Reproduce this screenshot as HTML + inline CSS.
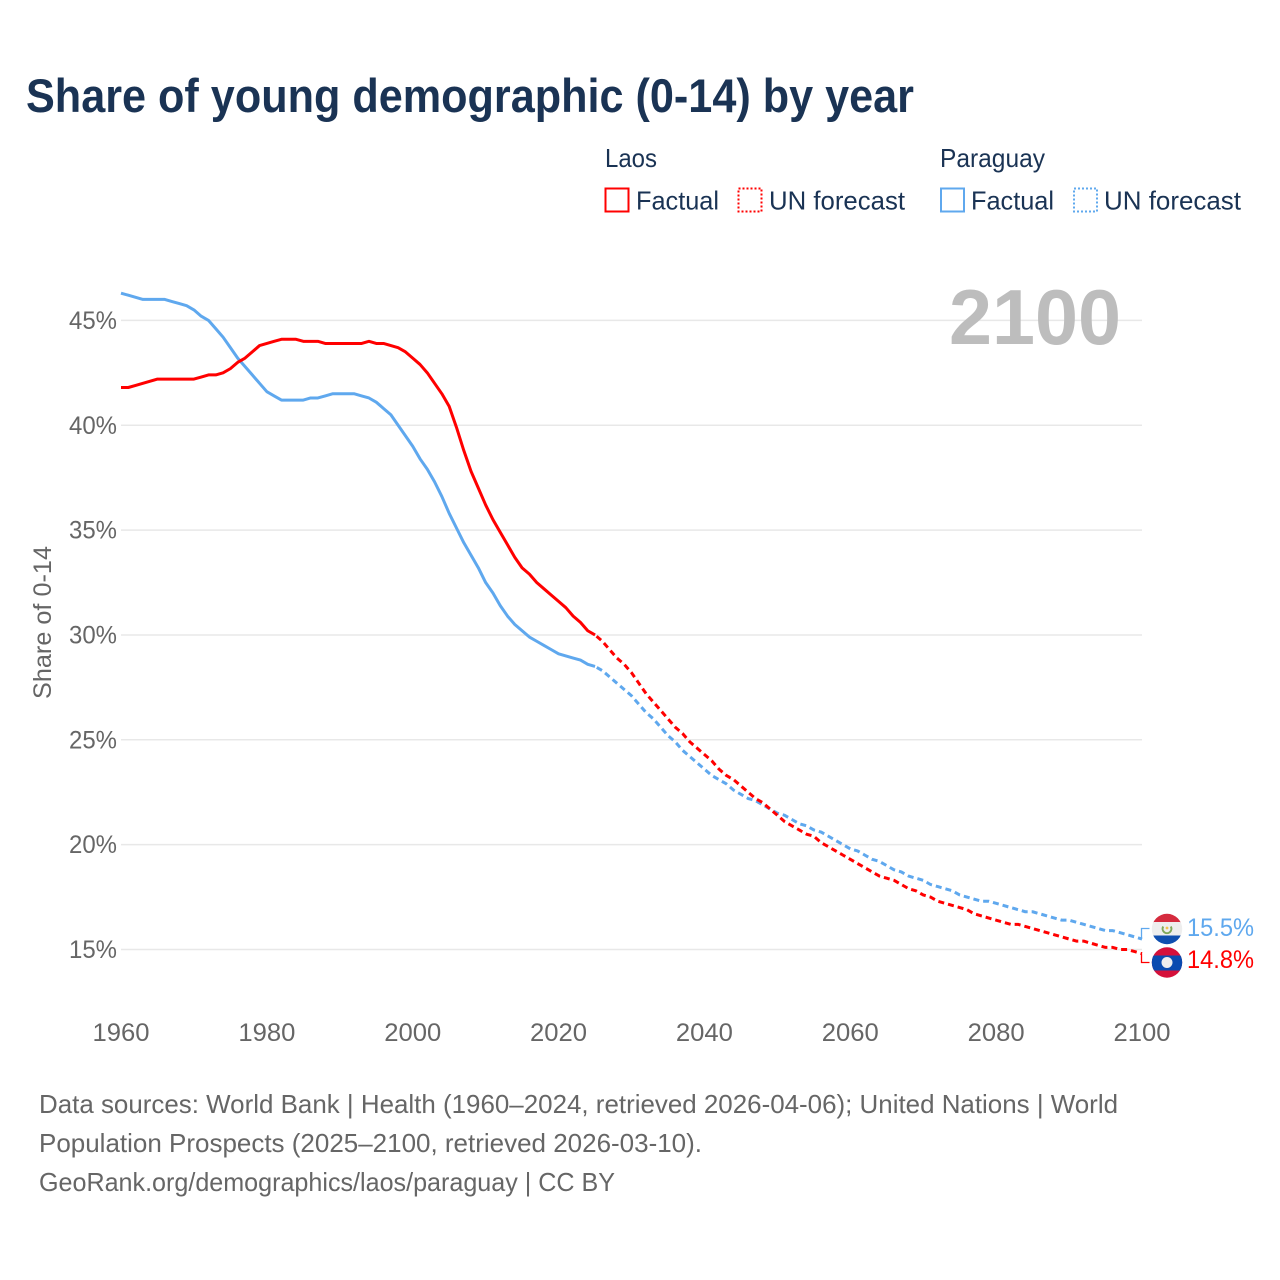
<!DOCTYPE html>
<html lang="en">
<head>
<meta charset="utf-8">
<title>Share of young demographic (0-14) by year</title>
<style>
html,body{margin:0;padding:0;background:#fff;}
svg{display:block;font-family:"Liberation Sans",sans-serif;}
</style>
</head>
<body>
<svg id="chart" xmlns="http://www.w3.org/2000/svg" width="1280" height="1280" viewBox="0 0 1280 1280">
  <defs>
    <clipPath id="clip-py"><circle cx="1167" cy="929" r="15.2"/></clipPath>
    <clipPath id="clip-la"><circle cx="1167" cy="962.5" r="15.2"/></clipPath>
  </defs>
  <rect x="0" y="0" width="1280" height="1280" fill="#ffffff"/>
  <text x="26" y="112" font-size="47" font-weight="bold" fill="#1a3354" textLength="888" lengthAdjust="spacingAndGlyphs">Share of young demographic (0-14) by year</text>

  <g font-size="26" fill="#1a3354">
    <text x="605" y="167" textLength="52" lengthAdjust="spacingAndGlyphs">Laos</text>
    <rect x="605.5" y="188.5" width="23" height="23" fill="none" stroke="#ff0000" stroke-width="2"/>
    <text x="636" y="209.5" textLength="83" lengthAdjust="spacingAndGlyphs">Factual</text>
    <rect x="738.5" y="188.5" width="23" height="23" fill="none" stroke="#ff0000" stroke-width="2" stroke-dasharray="2 2"/>
    <text x="769" y="209.5" textLength="136" lengthAdjust="spacingAndGlyphs">UN forecast</text>
    <text x="940" y="167" textLength="105" lengthAdjust="spacingAndGlyphs">Paraguay</text>
    <rect x="941" y="188.5" width="23" height="23" fill="none" stroke="#5fa8ee" stroke-width="2"/>
    <text x="971" y="209.5" textLength="83" lengthAdjust="spacingAndGlyphs">Factual</text>
    <rect x="1074" y="188.5" width="23" height="23" fill="none" stroke="#5fa8ee" stroke-width="2" stroke-dasharray="2 2"/>
    <text x="1104" y="209.5" textLength="137" lengthAdjust="spacingAndGlyphs">UN forecast</text>
  </g>

  <g id="grid"></g>
  <text x="949" y="344" font-size="78" font-weight="bold" fill="#bdbdbd" textLength="172" lengthAdjust="spacingAndGlyphs">2100</text>
  <g id="yticks" font-size="25" fill="#666666"></g>
  <g id="xticks" font-size="25" fill="#666666"></g>
  <text transform="translate(51,699) rotate(-90)" font-size="25" fill="#666666" textLength="153" lengthAdjust="spacingAndGlyphs">Share of 0-14</text>

  <g id="lines"></g>

  <g id="end-markers">
    <g clip-path="url(#clip-py)">
      <rect x="1150" y="912" width="34" height="11" fill="#d52b3e"/>
      <rect x="1150" y="922" width="34" height="14" fill="#eeeeee"/>
      <rect x="1150" y="935.5" width="34" height="11" fill="#0f4fb0"/>
      <path d="M1163.2 926.5 A4.4 4.4 0 1 0 1170.8 926.5" fill="none" stroke="#7fa85a" stroke-width="2"/>
      <circle cx="1167" cy="928" r="1.4" fill="#f2c14e"/>
    </g>
    <g clip-path="url(#clip-la)">
      <rect x="1150" y="946" width="34" height="34" fill="#d5103a"/>
      <rect x="1150" y="955.5" width="34" height="15" fill="#0a4bb0"/>
      <circle cx="1167" cy="962.5" r="5.5" fill="#eeeeee"/>
    </g>
    <text x="1187" y="936" font-size="25" fill="#5fa8ee" textLength="67" lengthAdjust="spacingAndGlyphs">15.5%</text>
    <text x="1187" y="968" font-size="25" fill="#ff0000" textLength="67" lengthAdjust="spacingAndGlyphs">14.8%</text>
  </g>

  <g font-size="26" fill="#666666">
    <text x="39" y="1113" textLength="1079" lengthAdjust="spacingAndGlyphs">Data sources: World Bank | Health (1960–2024, retrieved 2026-04-06); United Nations | World</text>
    <text x="39" y="1152" textLength="663" lengthAdjust="spacingAndGlyphs">Population Prospects (2025–2100, retrieved 2026-03-10).</text>
    <text x="39" y="1191" textLength="576" lengthAdjust="spacingAndGlyphs">GeoRank.org/demographics/laos/paraguay | CC BY</text>
  </g>
</svg>
<script>
const xTickYears = [1960, 1980, 2000, 2020, 2040, 2060, 2080, 2100];
const yTickValues = [15, 20, 25, 30, 35, 40, 45];
const factualStartYear = 1960;
const forecastStartYear = 2025;
const laosFactual = [
  41.8,41.8,41.9,42.0,42.1,42.2,42.2,42.2,42.2,42.2,
  42.2,42.3,42.4,42.4,42.5,42.7,43.0,43.2,43.5,43.8,
  43.9,44.0,44.1,44.1,44.1,44.0,44.0,44.0,43.9,43.9,
  43.9,43.9,43.9,43.9,44.0,43.9,43.9,43.8,43.7,43.5,
  43.2,42.9,42.5,42.0,41.5,40.9,39.9,38.8,37.8,37.0,
  36.2,35.5,34.9,34.3,33.7,33.2,32.9,32.5,32.2,31.9,
  31.6,31.3,30.9,30.6,30.2,30.0
];
const paraguayFactual = [
  46.3,46.2,46.1,46.0,46.0,46.0,46.0,45.9,45.8,45.7,
  45.5,45.2,45.0,44.6,44.2,43.7,43.2,42.8,42.4,42.0,
  41.6,41.4,41.2,41.2,41.2,41.2,41.3,41.3,41.4,41.5,
  41.5,41.5,41.5,41.4,41.3,41.1,40.8,40.5,40.0,39.5,
  39.0,38.4,37.9,37.3,36.6,35.8,35.1,34.4,33.8,33.2,
  32.5,32.0,31.4,30.9,30.5,30.2,29.9,29.7,29.5,29.3,
  29.1,29.0,28.9,28.8,28.6,28.5
];
const laosForecast = [
  30.0,29.7,29.3,28.9,28.6,28.2,27.7,27.2,26.8,26.4,
  26.0,25.6,25.3,24.9,24.6,24.3,24.0,23.6,23.3,23.1,
  22.8,22.5,22.2,22.0,21.7,21.4,21.1,20.9,20.7,20.5,
  20.4,20.1,19.9,19.7,19.5,19.3,19.1,18.9,18.7,18.5,
  18.4,18.3,18.1,17.9,17.8,17.6,17.5,17.3,17.2,17.1,
  17.0,16.9,16.7,16.6,16.5,16.4,16.3,16.2,16.2,16.1,
  16.0,15.9,15.8,15.7,15.6,15.5,15.4,15.4,15.3,15.2,
  15.1,15.1,15.0,15.0,14.9,14.8
];
const paraguayForecast = [
  28.5,28.3,28.0,27.7,27.4,27.1,26.7,26.3,26.0,25.6,
  25.2,24.9,24.5,24.2,23.9,23.6,23.3,23.1,22.9,22.6,
  22.4,22.2,22.1,21.9,21.7,21.5,21.4,21.2,21.0,20.9,
  20.7,20.6,20.4,20.2,20.0,19.8,19.7,19.5,19.3,19.2,
  19.0,18.8,18.7,18.5,18.4,18.3,18.1,18.0,17.9,17.8,
  17.6,17.5,17.4,17.3,17.3,17.2,17.1,17.0,16.9,16.8,
  16.8,16.7,16.6,16.5,16.4,16.4,16.3,16.2,16.1,16.0,
  15.9,15.9,15.8,15.7,15.6,15.5
];

const NS = 'http://www.w3.org/2000/svg';
const plotLeft = 121, plotRight = 1142;
function xScale(year) { return plotLeft + (year - 1960) * (plotRight - plotLeft) / 140; }
function yScale(v) { return 949.5 - (v - 15) * 20.97; }

const gridGroup = document.getElementById('grid');
const yTickGroup = document.getElementById('yticks');
const xTickGroup = document.getElementById('xticks');
const lineGroup = document.getElementById('lines');

yTickValues.forEach(function (v) {
  const line = document.createElementNS(NS, 'line');
  
  
  line.setAttribute('x1', plotLeft);
  line.setAttribute('x2', plotRight);
  line.setAttribute('y1', yScale(v));
  line.setAttribute('y2', yScale(v));
  line.setAttribute('stroke', '#e8e8e8');
  line.setAttribute('stroke-width', '1.5');
  gridGroup.appendChild(line);

  const label = document.createElementNS(NS, 'text');
  
  
  label.setAttribute('x', 117);
  label.setAttribute('y', yScale(v) + 8.5);
  label.setAttribute('text-anchor', 'end');
  label.setAttribute('textLength', '48');
  label.setAttribute('lengthAdjust', 'spacingAndGlyphs');
  label.textContent = v + '%';
  yTickGroup.appendChild(label);
});

xTickYears.forEach(function (yr) {
  const label = document.createElementNS(NS, 'text');
  
  
  label.setAttribute('x', xScale(yr));
  label.setAttribute('y', 1041);
  label.setAttribute('text-anchor', 'middle');
  label.setAttribute('textLength', '57');
  label.setAttribute('lengthAdjust', 'spacingAndGlyphs');
  label.textContent = yr;
  xTickGroup.appendChild(label);
});

function pointsFor(values, startYear) {
  return values.map(function (v, i) {
    return xScale(startYear + i).toFixed(2) + ',' + yScale(v).toFixed(2);
  }).join(' ');
}

function drawSeries(name, values, startYear, color, dashed) {
  const poly = document.createElementNS(NS, 'polyline');
  
  
  poly.setAttribute('points', pointsFor(values, startYear));
  poly.setAttribute('fill', 'none');
  poly.setAttribute('stroke', color);
  poly.setAttribute('stroke-width', '3');
  poly.setAttribute('stroke-linejoin', 'round');
  if (dashed) {
    poly.setAttribute('stroke-dasharray', '6 4');
    poly.setAttribute('stroke-dashoffset', '8');
  }
  lineGroup.appendChild(poly);
}

drawSeries('line-paraguay-factual', paraguayFactual, factualStartYear, '#5fa8ee', false);
drawSeries('line-laos-factual', laosFactual, factualStartYear, '#ff0000', false);
drawSeries('line-paraguay-forecast', paraguayForecast, forecastStartYear, '#5fa8ee', true);
drawSeries('line-laos-forecast', laosForecast, forecastStartYear, '#ff0000', true);

function drawConnector(name, value, labelY, color) {
  const ex = xScale(2100) - 0.5;
  const path = document.createElementNS(NS, 'path');
  
  
  path.setAttribute('d', 'M' + ex + ' ' + yScale(value) + ' L' + ex + ' ' + labelY + ' L' + (ex + 8) + ' ' + labelY);
  path.setAttribute('fill', 'none');
  path.setAttribute('stroke', color);
  path.setAttribute('stroke-width', '1.3');
  lineGroup.appendChild(path);
}
drawConnector('connector-paraguay', paraguayForecast[paraguayForecast.length - 1], 928.5, '#5fa8ee');
drawConnector('connector-laos', laosForecast[laosForecast.length - 1], 962.5, '#ff0000');
</script>
</body>
</html>
